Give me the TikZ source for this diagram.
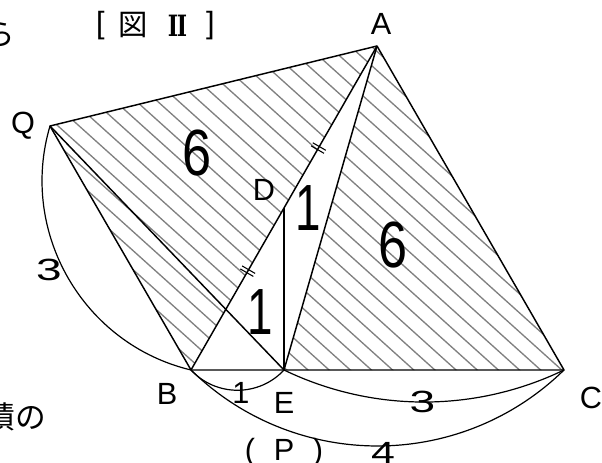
\documentclass[tikz,border=0pt]{standalone}
\usepackage{fontspec}
\usetikzlibrary{calc}
\newfontfamily\lblfont{Liberation Sans}
\newfontfamily\romfont{DejaVu Serif}
\newfontfamily\jpfont{Noto Sans CJK JP}
\tikzset{
  ln/.style={line width=1.1pt, line join=round},
  arcln/.style={line width=0.9pt},
  hatch/.style={line width=1pt, draw=black!50},
  tk/.style={line width=0.8pt},
  lbl/.style={font=\lblfont\fontsize{23}{23}\selectfont, inner sep=0pt},
  big/.style={font=\lblfont\fontsize{49}{49}\selectfont, inner sep=0pt},
  jp/.style={font=\jpfont\fontsize{23}{23}\selectfont, inner sep=0pt},
}
\begin{document}
\begin{tikzpicture}[x=0.75pt,y=-0.75pt]
\useasboundingbox (0,0) rectangle (602,463);
\coordinate (A) at (377,46);
\coordinate (Q) at (50,126);
\coordinate (B) at (191,370);
\coordinate (E) at (284,370);
\coordinate (C) at (564,370);
\coordinate (D) at ($(B)!0.5!(A)$);
% hatching
\begin{scope}
\clip (Q) -- (A) -- (B) -- cycle (A) -- (E) -- (C) -- cycle;
\foreach \k in {-16,...,22} {
  \draw[hatch] ({308+21.15*\k-500},-80) -- ({308+21.15*\k+200},550);
}
\end{scope}
% main lines
\draw[ln] (Q) -- (A) -- (C) -- (B) -- cycle;
\draw[ln] (Q) -- (E);
\draw[ln] (A) -- (B);
\draw[ln] (A) -- (E);
\draw[ln] (D) -- (E);
% arcs
\coordinate (qb1) at (18.5,232.3);
\coordinate (qb2) at (83.2,344.3);
\coordinate (be1) at (216,397);
\coordinate (be2) at (259,397);
\coordinate (ec1) at (372.6,412.7);
\coordinate (ec2) at (475.4,412.7);
\coordinate (bc1) at (294.8,471.3);
\coordinate (bc2) at (460.2,471.3);
\draw[arcln] (Q) .. controls (qb1) and (qb2) .. (B);
\draw[arcln] (B) .. controls (be1) and (be2) .. (E);
\draw[arcln] (E) .. controls (ec1) and (ec2) .. (C);
\draw[arcln] (B) .. controls (bc1) and (bc2) .. (C);
% tick marks
\coordinate (t1) at ($(D)!0.37!(A)$);
\coordinate (t2) at ($(D)!0.39!(B)$);
\foreach \t in {t1,t2} {
  \draw[tk] ($(\t)+(0.87,-1.52)+(-6.5,-3.75)$) -- ($(\t)+(0.87,-1.52)+(6.5,3.75)$);
  \draw[tk] ($(\t)-(0.87,-1.52)+(-6.5,-3.75)$) -- ($(\t)-(0.87,-1.52)+(6.5,3.75)$);
}
% vertex labels
\node[lbl] (lA) at (381,24) {A};
\node[lbl, anchor=base] (lQ) at (23,134) {Q};
\node[lbl] (lB) at (167,394) {B};
\node[lbl] (lE) at (284,402.5) {E};
\node[lbl] (lC) at (591,398) {C};
\node[lbl] (lD) at (264,190) {D};
\node[lbl, anchor=base] (lP) at (284,460) {(\hspace{14pt}P\hspace{14pt})};
% length labels
\node[lbl, xscale=1.5, transform shape] (n3a) at (49,270) {3};
\node[lbl, xscale=1.5, transform shape] (n3b) at (422.5,401.5) {3};
\node[lbl] (n1a) at (241,392.5) {1};
\node[lbl, xscale=1.4, transform shape] (n4) at (383,453) {4};
% area labels
\node[big, xscale=0.8, transform shape] (s6a) at (197.5,153.5) {6};
\node[big, xscale=0.8, transform shape] (s6b) at (393.5,245) {6};
\node[big, xscale=0.7, transform shape] (s1a) at (308.5,208.5) {1};
\node[big, xscale=0.7, transform shape] (s1b) at (260,312.5) {1};
% title
\node[lbl] (tl) at (100.5,26) {[};
\node[jp, font=\jpfont\fontsize{22}{22}\selectfont] (tz) at (133,25.5) {図};
\node[inner sep=0pt] (tr) at (177.5,26) {\scalebox{0.75}[1]{\romfont\bfseries\fontsize{22}{22}\selectfont I\kern-1.5pt I}};
\node[lbl] (tc) at (210.5,26) {]};
% cropped fragments
\node[jp, anchor=east] (fr1) at (15,34) {ら};
\node[jp, anchor=east] (fr2) at (46,417) {積の};
\end{tikzpicture}
\end{document}
